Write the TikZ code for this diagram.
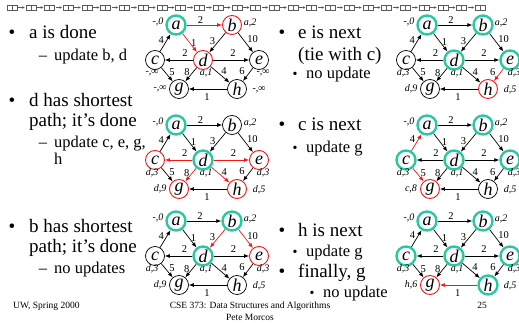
\documentclass[tikz,border=0pt]{standalone}
\usepackage{fontspec}
\setmainfont{Liberation Serif}
\usetikzlibrary{arrows.meta}
\definecolor{donec}{RGB}{40,200,160}
\definecolor{hotc}{RGB}{250,20,20}
\definecolor{glyphc}{RGB}{90,90,90}
\newcommand\fBig{\fontsize{19}{20}\selectfont}
\newcommand\fSub{\fontsize{16.5}{17}\selectfont}
\newcommand\fFoot{\fontsize{9.5}{11}\selectfont}
\def\vLa{-,0}\def\vLb{a,2}\def\vLc{d,3}\def\vLd{a,1}\def\vLe{d,3}\def\vLg{d,9}\def\vLh{d,5}
\tikzset{
 vtx/.style={circle, draw=black, line width=0.75pt, minimum size=19pt, inner sep=0pt, font=\fontsize{18}{18}\selectfont\itshape},
 fin/.style={draw=donec, line width=2.4pt},
 cand/.style={draw=hotc, line width=0.9pt},
 edge/.style={line width=0.7pt, -{Latex[length=5pt,width=4pt]}},
 hot/.style={hotc},
 wt/.style={font=\fontsize{10.5}{10.5}\selectfont, inner sep=0pt, text=black},
 lbl/.style={font=\fontsize{10}{10}\selectfont\itshape, inner sep=0pt, text=black},
 va/.style={}, vb/.style={}, vc/.style={}, vd/.style={}, ve/.style={}, vg/.style={}, vh/.style={},
 kab/.style={}, kad/.style={}, kbd/.style={}, kbe/.style={}, kca/.style={}, kdc/.style={},
 kde/.style={}, kcg/.style={}, kdg/.style={}, kdh/.style={}, keh/.style={}, khg/.style={},
 bul/.style={anchor=base, font=\fontsize{19}{19}\selectfont, inner sep=0pt},
 sbul/.style={anchor=base, font=\fontsize{14}{14}\selectfont, inner sep=0pt},
 big/.style={anchor=base west, font=\fBig, inner sep=0pt},
 sub/.style={anchor=base west, font=\fSub, inner sep=0pt},
 dsh/.style={anchor=base, font=\fSub, inner sep=0pt},
 foot/.style={anchor=base, font=\fFoot, inner sep=0pt},
 gl/.style={draw=glyphc, line width=0.4pt, minimum width=10pt, minimum height=5.3pt, inner sep=0pt,
   path picture={\draw[glyphc, line width=0.4pt] (path picture bounding box.north) -- (path picture bounding box.south);}},
 glarrow/.style={glyphc, line width=0.4pt, -{Stealth[length=2.5pt,width=2.5pt]}, shorten <=1pt, shorten >=1pt},
}
\newcommand\dgraph{%
 \node[vtx,va,label={[lbl,xshift=-18pt,yshift=3pt]center:\vLa}] (a) at (21,-35) {a};
 \node[vtx,vb,label={[lbl,xshift=18pt,yshift=2pt]center:\vLb}] (b) at (77,-35) {b};
 \node[vtx,vc,label={[lbl,xshift=-3pt,yshift=-13pt]center:\vLc}] (c) at (0,0) {c};
 \node[vtx,vd,label={[lbl,xshift=3pt,yshift=-13pt]center:\vLd}] (d) at (48,0) {d};
 \node[vtx,ve,label={[lbl,xshift=4pt,yshift=-13pt]center:\vLe}] (e) at (104,0) {e};
 \node[vtx,vg,label={[lbl,xshift=-19pt]center:\vLg}] (g) at (24,29) {g};
 \node[vtx,vh,label={[lbl,xshift=22pt,yshift=-1pt]center:\vLh}] (h) at (82,29) {h};
 \draw[edge,kab] (a) -- node[wt,xshift=-4pt,yshift=5pt]{2} (b);
 \draw[edge,kad] (a) -- node[wt,xshift=4pt]{1} (d);
 \draw[edge,kbd] (b) -- node[wt,xshift=-5pt,yshift=1pt]{3} (d);
 \draw[edge,kbe] (b) -- node[wt,xshift=7pt,yshift=3pt]{10} (e);
 \draw[edge,kca] (c) -- node[wt,xshift=-4pt,yshift=3pt]{4} (a);
 \draw[edge,kdc] (d) -- node[wt,xshift=6pt,yshift=7pt]{2} (c);
 \draw[edge,kde] (d) -- node[wt,xshift=2pt,yshift=7pt]{2} (e);
 \draw[edge,kcg] (c) -- node[wt,xshift=5pt,yshift=2pt]{5} (g);
 \draw[edge,kdg] (d) -- node[wt,xshift=-4pt,yshift=2pt]{8} (g);
 \draw[edge,kdh] (d) -- node[wt,xshift=4pt,yshift=3pt]{4} (h);
 \draw[edge,keh] (e) -- node[wt,xshift=-6pt,yshift=3pt]{6} (h);
 \draw[edge,khg] (h) -- node[wt,xshift=-1pt,yshift=-8pt]{1} (g);
}
\begin{document}
\begin{tikzpicture}[x=1pt,y=-1pt]
\useasboundingbox (0,0) rectangle (519,323);
% top strip of missing glyphs
\foreach \i in {0,...,25} \node[gl] (t\i) at ({12+18.73*\i},7.5) {};
\foreach \i [evaluate=\i as \j using int(\i+1)] in {0,...,24} \draw[glarrow] (t\i) -- (t\j);
% graphs
\begin{scope}[shift={(155,60)},name prefix=g1-,va/.style=fin,vb/.style=cand,vd/.style=cand,kab/.style=hot,kad/.style=hot]
 \def\vLc{-,∞}\def\vLe{-,∞}\def\vLg{-,∞}\def\vLh{-,∞}
 \dgraph
\end{scope}
\begin{scope}[shift={(406,60)},name prefix=g2-,va/.style=fin,vb/.style=fin,vd/.style=fin,ve/.style=fin,vh/.style=cand,keh/.style=hot]
 \dgraph
\end{scope}
\begin{scope}[shift={(155,160)},name prefix=g3-,va/.style=fin,vd/.style=fin,vc/.style=cand,ve/.style=cand,vg/.style=cand,vh/.style=cand,kdc/.style=hot,kde/.style=hot,kdg/.style=hot,kdh/.style=hot]
 \dgraph
\end{scope}
\begin{scope}[shift={(406,160)},name prefix=g4-,va/.style=fin,vb/.style=fin,vc/.style=fin,vd/.style=fin,ve/.style=fin,vg/.style=cand,kca/.style=hot,kcg/.style=hot]
 \def\vLg{c,8}
 \dgraph
\end{scope}
\begin{scope}[shift={(155,256)},name prefix=g5-,va/.style=fin,vb/.style=fin,vd/.style=fin,ve/.style=cand,kbd/.style=hot,kbe/.style=hot]
 \dgraph
\end{scope}
\begin{scope}[shift={(406,256)},name prefix=g6-,va/.style=fin,vb/.style=fin,vc/.style=fin,vd/.style=fin,ve/.style=fin,vh/.style=fin,vg/.style=cand,khg/.style=hot]
 \def\vLg{h,6}
 \dgraph
\end{scope}
% left text
\node[bul] (lb1) at (12,39) {\textbullet};
\node[big] (l1) at (29,39) {a is done};
\node[dsh] (ld1) at (43,61) {–};
\node[sub] (l2) at (54,61) {update b, d};
\node[bul] (lb2) at (12,107) {\textbullet};
\node[big] (l3) at (29,107) {d has shortest};
\node[big] (l4) at (29,127) {path; it’s done};
\node[dsh] (ld2) at (43,148) {–};
\node[sub] (l5) at (54,148) {update c, e, g,};
\node[sub] (l6) at (54,165) {h};
\node[bul] (lb3) at (12,232) {\textbullet};
\node[big] (l7) at (29,232) {b has shortest};
\node[big] (l8) at (29,252) {path; it’s done};
\node[dsh] (ld3) at (43,273) {–};
\node[sub] (l9) at (54,273) {no updates};
% right text
\node[bul] (rb1) at (282,39) {\textbullet};
\node[big] (r1) at (298,39) {e is next};
\node[big] (r2) at (298,61) {(tie with c)};
\node[sbul] (rs1) at (295,79) {\textbullet};
\node[sub] (r3) at (306,79) {no update};
\node[bul] (rb2) at (282,131) {\textbullet};
\node[big] (r4) at (298,131) {c is next};
\node[sbul] (rs2) at (295,153) {\textbullet};
\node[sub] (r5) at (306,153) {update g};
\node[bul] (rb3) at (282,236) {\textbullet};
\node[big] (r6) at (298,236) {h is next};
\node[sbul] (rs3) at (295,256) {\textbullet};
\node[sub] (r7) at (306,256) {update g};
\node[bul] (rb4) at (282,277) {\textbullet};
\node[big] (r8) at (298,277) {finally, g};
\node[sbul] (rs4) at (312,297) {\textbullet};
\node[sub] (r9) at (323,297) {no update};
% footer
\node[foot,anchor=base west] (f1) at (13,308) {UW, Spring 2000};
\node[foot] (f2) at (250,308) {CSE 373: Data Structures and Algorithms};
\node[foot] (f3) at (250,320) {Pete Morcos};
\node[foot] (f4) at (482,308) {25};
\end{tikzpicture}
\end{document}
